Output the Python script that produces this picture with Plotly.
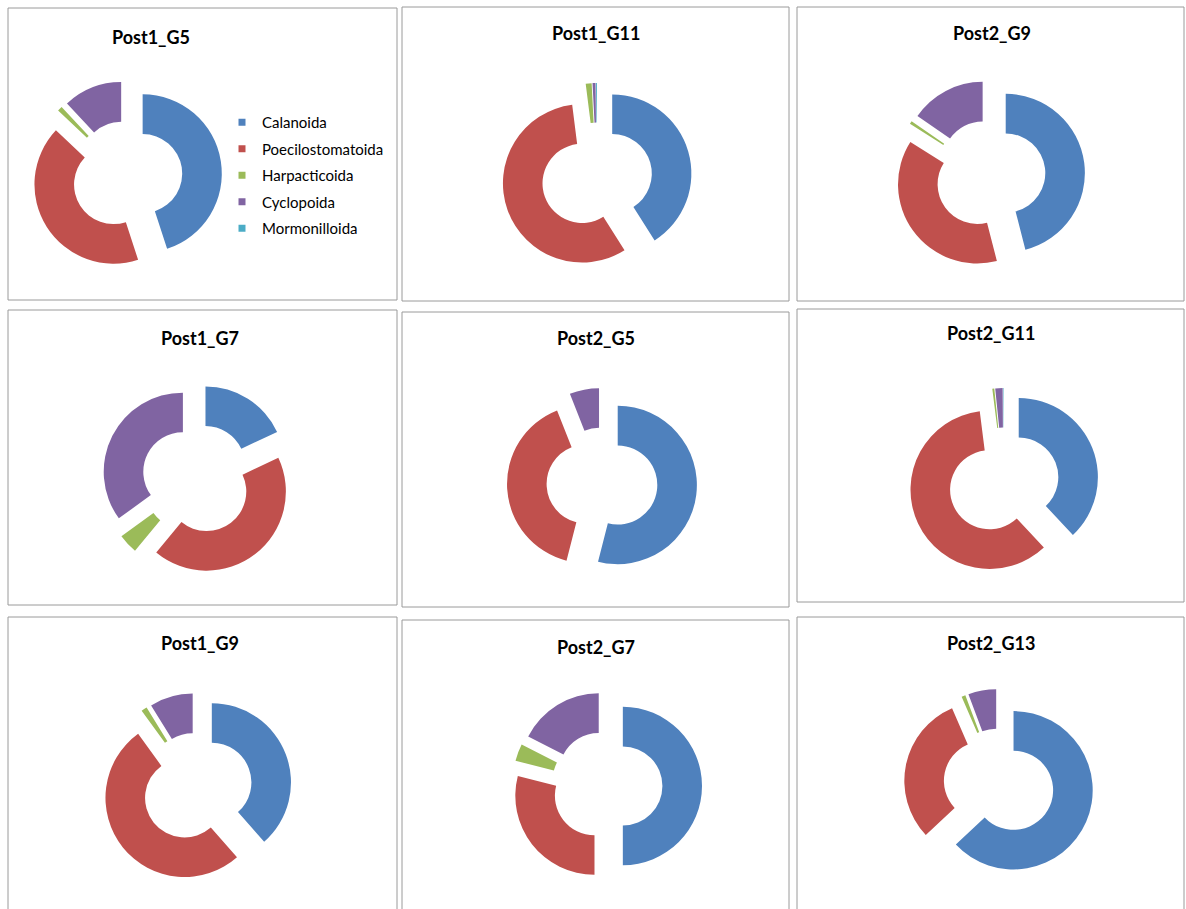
import plotly.graph_objects as go

# ---------------- data ----------------
labels = ["Calanoida", "Poecilostomatoida", "Harpacticoida", "Cyclopoida", "Mormonilloida"]
panels = ["Post1_G5", "Post1_G11", "Post2_G9",
          "Post1_G7", "Post2_G5", "Post2_G11",
          "Post1_G9", "Post2_G7", "Post2_G13"]
calanoida = [45, 41, 46, 18, 54, 38, 38.5, 50, 63]
poecilostomatoida = [42, 57, 38, 43, 40, 60, 51.5, 29, 30.5]
harpacticoida = [1, 1.2, 0.6, 4, 0, 0.4, 1.2, 3.5, 0.8]
cyclopoida = [12, 0.6, 15.4, 35, 6, 1.5, 8.8, 17.5, 5.7]
mormonilloida = [0, 0.2, 0, 0, 0, 0.1, 0, 0, 0]

colors = ["#4F81BD", "#C0504D", "#9BBB59", "#8064A2", "#4BACC6"]

W, H = 1186, 909

# layout (pixels): donut centres, title positions, panel boxes
centers = [(127, 176), (597, 178), (990, 175),
           (197, 479), (602, 483), (1004, 483),
           (197, 788), (607, 786), (999, 784)]
title_pos = [(151, 37), (596, 33), (992, 33),
             (200, 338), (596, 338), (991, 333),
             (200, 643), (596, 647), (991, 643)]
boxes = [(8, 8, 397, 300), (402, 7, 789, 301), (797, 7, 1184, 301),
         (8, 310, 397, 605), (402, 312, 789, 607), (797, 309, 1184, 602),
         (8, 617, 397, 915), (402, 620, 789, 915), (797, 617, 1184, 915)]
HALF = 95  # half size of pie domain in px
PULL = 0.2


def px_x(x):
    return x / W


def px_y(y):
    return 1 - y / H


fig = go.Figure()

for i, name in enumerate(panels):
    vals = [calanoida[i], poecilostomatoida[i], harpacticoida[i], cyclopoida[i], mormonilloida[i]]
    cx, cy = centers[i]
    fig.add_trace(go.Pie(
        labels=labels, values=vals, hole=0.5, sort=False, direction="clockwise",
        rotation=0, pull=[PULL] * 5, textinfo="none", showlegend=False,
        marker=dict(colors=colors, line=dict(width=0)),
        domain=dict(x=[px_x(cx - HALF), px_x(cx + HALF)],
                    y=[px_y(cy + HALF), px_y(cy - HALF)]),
        name=name, hoverinfo="label+percent",
    ))

# legend entries (legend-only markers)
for lab, col in zip(labels, colors):
    fig.add_trace(go.Scatter(
        x=[None], y=[None], mode="markers", name=lab, legendgroup=lab,
        marker=dict(symbol="square", size=7, color=col),
    ))

shapes = []
for (x0, y0, x1, y1) in boxes:
    shapes.append(dict(type="rect", xref="paper", yref="paper",
                       x0=px_x(x0), x1=px_x(x1), y0=px_y(y1), y1=px_y(y0),
                       line=dict(color="#9a9a9a", width=1), fillcolor="rgba(0,0,0,0)"))

annotations = []
for name, (tx, ty) in zip(panels, title_pos):
    annotations.append(dict(text=name, x=px_x(tx), y=px_y(ty), xref="paper", yref="paper",
                            showarrow=False, xanchor="center", yanchor="middle",
                            font=dict(family="Lato", size=18, color="#000000", weight="bold")))

fig.update_layout(
    width=W, height=H, margin=dict(l=0, r=0, t=0, b=0),
    paper_bgcolor="white", plot_bgcolor="white",
    xaxis=dict(visible=False), yaxis=dict(visible=False),
    shapes=shapes, annotations=annotations,
    showlegend=True,
    legend=dict(x=px_x(222), y=px_y(106), xanchor="left", yanchor="top",
                tracegroupgap=4, bgcolor="rgba(0,0,0,0)",
                font=dict(family="Lato", size=15, color="#000000")),
)

fig.write_html("out.html")
